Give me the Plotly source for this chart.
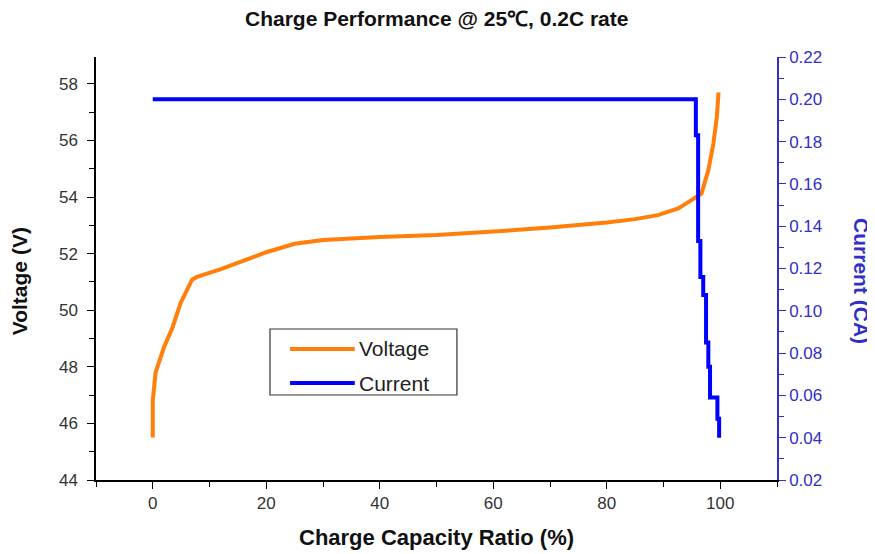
import plotly.graph_objects as go

# Charge performance data
volt_x = [0, 0, 0.5, 2.0, 3.5, 4.9, 6.9, 7.8, 12, 16.9, 20, 25, 30, 40, 50,
          60, 70, 80, 85, 89, 92.6, 95, 96.7, 97.9, 98.8, 99.4, 99.7]
volt_y = [45.5, 46.8, 47.8, 48.7, 49.4, 50.25, 51.07, 51.18, 51.45, 51.8,
          52.05, 52.35, 52.48, 52.59, 52.66, 52.78, 52.92, 53.1, 53.22,
          53.36, 53.6, 53.9, 54.13, 54.95, 55.9, 56.84, 57.7]

cur_x = [0, 95.7, 96.1, 96.5, 97.0, 97.5, 97.9, 98.2, 99.5, 99.8]
cur_y = [0.20, 0.183, 0.133, 0.116, 0.1075, 0.085, 0.0736, 0.059, 0.049, 0.040]

ORANGE = "#ff7f0a"
BLUE = "#0000ff"
BLUE_AX = "#3030c8"
FONT = "Arial"

fig = go.Figure()

fig.add_trace(go.Scatter(
    x=volt_x, y=volt_y, mode="lines", name="Voltage",
    line=dict(color=ORANGE, width=4),
))
fig.add_trace(go.Scatter(
    x=cur_x, y=cur_y, mode="lines", name="Current", yaxis="y2",
    line=dict(color=BLUE, width=4, shape="hv"),
))

fig.update_layout(
    width=875, height=554,
    # page body adds 8px, margins compensate for it
    margin=dict(l=88, r=106, t=49, b=82),
    paper_bgcolor="white", plot_bgcolor="white",
    font=dict(family=FONT, color="#333333"),
    showlegend=False,
    xaxis=dict(
        range=[-10, 110], tick0=0, dtick=20, automargin=False,
        showline=True, linecolor="black", linewidth=1.5, mirror=False,
        ticks="outside", ticklen=7, tickcolor="black",
        minor=dict(dtick=10, ticks="outside", ticklen=5, tickcolor="black"),
        showgrid=False, zeroline=False,
        tickfont=dict(size=17, color="#333333"),
    ),
    yaxis=dict(
        range=[44, 58.95], tick0=44, dtick=2, automargin=False,
        showline=True, linecolor="black", linewidth=1.5,
        ticks="outside", ticklen=7, tickcolor="black",
        minor=dict(dtick=1, ticks="outside", ticklen=5, tickcolor="black"),
        showgrid=False, zeroline=False, ticklabelstandoff=6,
        tickfont=dict(size=17, color="#333333"),
    ),
    yaxis2=dict(
        overlaying="y", side="right", anchor="x", automargin=False,
        range=[0.02, 0.22], tick0=0.02, dtick=0.02, tickformat=".2f",
        showline=True, linecolor=BLUE_AX, linewidth=1.5,
        ticks="outside", ticklen=7, tickcolor=BLUE_AX,
        minor=dict(dtick=0.01, ticks="outside", ticklen=5, tickcolor=BLUE_AX),
        showgrid=False, zeroline=False,
        tickfont=dict(size=17, color=BLUE_AX),
    ),
)

# titles
fig.add_annotation(
    text="<b>Charge Performance @ 25℃, 0.2C rate</b>",
    xref="paper", yref="paper", x=0.5, y=1.092, showarrow=False,
    xanchor="center", yanchor="middle",
    font=dict(size=21, color="#111111"),
)
fig.add_annotation(
    text="<b>Charge Capacity Ratio (%)</b>",
    xref="paper", yref="paper", x=0.5, y=-0.137, showarrow=False,
    xanchor="center", yanchor="middle",
    font=dict(size=22, color="#111111"),
)
fig.add_annotation(
    text="<b>Voltage (V)</b>",
    xref="paper", yref="paper", x=-0.113, y=0.47, showarrow=False,
    xanchor="center", yanchor="middle",
    textangle=-90, font=dict(size=21, color="#111111"),
)
# right-hand axis title reads top-to-bottom in the original
fig.add_annotation(
    text="<b>Current (CA)</b>", xref="paper", yref="paper",
    x=1.125, y=0.47, showarrow=False, textangle=90,
    xanchor="center", yanchor="middle",
    font=dict(size=21, color=BLUE_AX),
)

# legend box drawn by hand to match the long sample lines of the original
fig.add_shape(type="rect", xref="paper", yref="paper",
              x0=0.2555, x1=0.530, y0=0.201, y1=0.357,
              line=dict(color="#333333", width=1.2), fillcolor="white",
              layer="below")
for name, color, yy in [("Voltage", ORANGE, 0.3097), ("Current", BLUE, 0.2293)]:
    fig.add_shape(type="line", xref="paper", yref="paper",
                  x0=0.285, x1=0.380, y0=yy, y1=yy,
                  line=dict(color=color, width=4))
    fig.add_annotation(text=name, xref="paper", yref="paper",
                       x=0.383, y=yy, xanchor="left", yanchor="middle",
                       showarrow=False,
                       font=dict(size=21, color="#222222"))

fig.write_html("out.html")
